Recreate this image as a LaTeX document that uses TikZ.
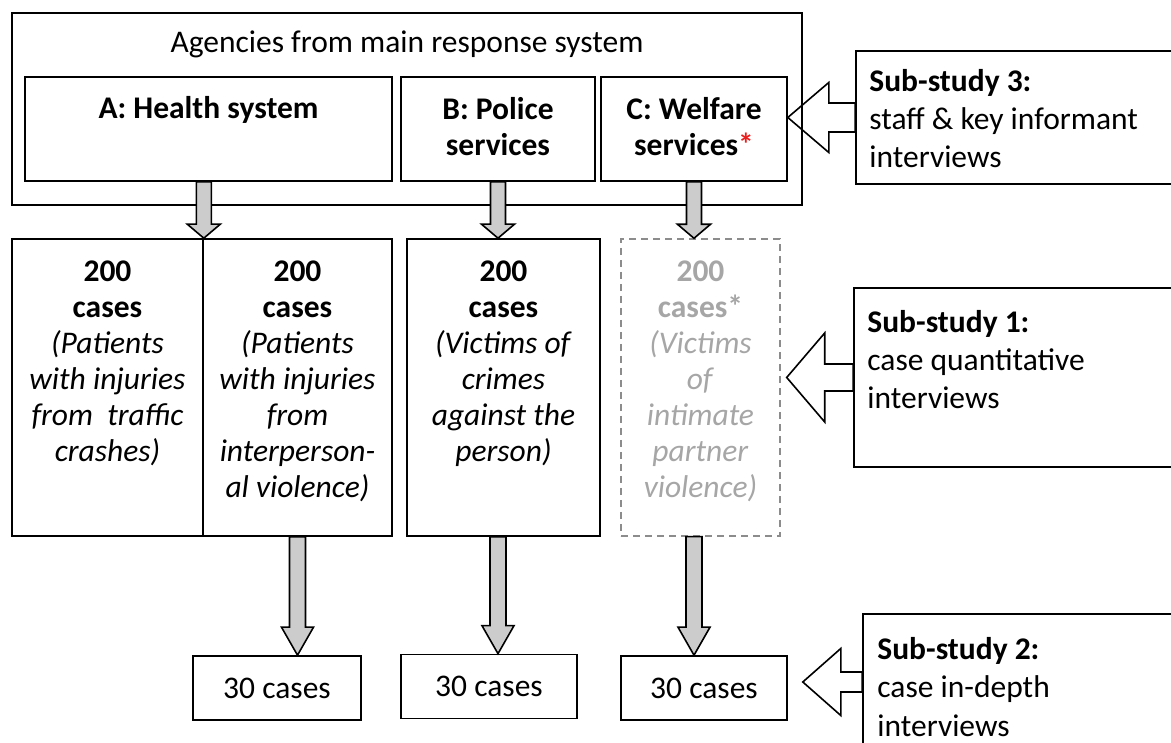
\documentclass[tikz,border=0pt]{standalone}
\usepackage{fontspec}
\setmainfont{Carlito}
\usetikzlibrary{calc,positioning}

\definecolor{arrowfill}{RGB}{204,204,204}
\definecolor{dashgray}{RGB}{140,140,140}
\definecolor{textgray}{RGB}{166,166,166}
\definecolor{starred}{RGB}{235,30,30}

\newcommand{\downblock}[5]{%
  \draw[blockarrow] let \p1=(#1), \p2=(#2) in
    (\x1-#3pt,\y1) -- (\x1+#3pt,\y1) -- (\x1+#3pt,\y2+#5pt) -- (\x1+#4pt,\y2+#5pt)
    -- (\x1,\y2) -- (\x1-#4pt,\y2+#5pt) -- (\x1-#3pt,\y2+#5pt) -- cycle;}
\newcommand{\studyarrow}[5]{%
  \draw[studyline] let \p1=(#1.west), \p2=(#2) in
    (\x2,\y1) -- (\x2+#5pt,\y1+#3pt) -- (\x2+#5pt,\y1+#4pt) -- (\x1,\y1+#4pt)
    -- (\x1,\y1-#4pt) -- (\x2+#5pt,\y1-#4pt) -- (\x2+#5pt,\y1-#3pt) -- cycle;}

\begin{document}
\begin{tikzpicture}[x=1pt, y=1pt,
  box/.style={draw, line width=1.6pt, inner sep=0pt},
  dashbox/.style={draw=dashgray, line width=1.4pt, dash pattern=on 7pt off 5pt, inner sep=0pt},
  txt/.style={font=\fontsize{31.5}{36}\selectfont, align=center, inner sep=0pt},
  stxt/.style={font=\fontsize{31.5}{38.4}\selectfont, align=left, inner sep=0pt, anchor=base west},
  blockarrow/.style={draw, line width=1.6pt, fill=arrowfill, line join=miter},
  studyline/.style={draw, line width=1.6pt, line join=miter}]
\useasboundingbox (0,0) rectangle (1171,743);

\node[box, minimum width=790pt, minimum height=192pt] (agencies) at (407,634) {};
\node[txt, anchor=base] (title) at (407,690) {Agencies from main response system};
\node[box, minimum width=367pt, minimum height=104pt] (hA) at (208.5,614) {};
\node[box, minimum width=194pt, minimum height=104pt] (hB) at (498,614) {};
\node[box, minimum width=186pt, minimum height=104pt] (hC) at (694,614) {};
\node[txt, anchor=base] (tA) at (208.5,624) {\textbf{A: Health system}};
\node[txt, anchor=base] (tB) at (498,587) {\textbf{B: Police}\\\textbf{services}};
\node[txt, anchor=base] (tC) at (694,587) {\textbf{C: Welfare}\\\textbf{services\textcolor{starred}{*}}};

\node[box, minimum width=191pt, minimum height=297pt] (c1) at (107.5,355.5) {};
\node[box, minimum width=189pt, minimum height=297pt] (c2) at (297.5,355.5) {};
\node[box, minimum width=193pt, minimum height=297pt] (c3) at (503.5,355.5) {};
\node[dashbox, minimum width=159pt, minimum height=297pt] (c4) at (700.5,355.5) {};
\node[txt, anchor=base] (tc1) at (107.5,281) {\textbf{200}\\\textbf{cases}\\\textit{(Patients}\\\textit{with injuries}\\\textit{from~ traffic}\\\textit{crashes)}};
\node[txt, anchor=base] (tc2) at (297.5,245) {\textbf{200}\\\textbf{cases}\\\textit{(Patients}\\\textit{with injuries}\\\textit{from}\\\textit{interperson-}\\\textit{al violence)}};
\node[txt, anchor=base] (tc3) at (503.5,281) {\textbf{200}\\\textbf{cases}\\\textit{(Victims of}\\\textit{crimes}\\\textit{against the}\\\textit{person)}};
\node[txt, anchor=base, text=textgray] (tc4) at (700.5,245) {\textbf{200}\\\textbf{cases*}\\\textit{(Victims}\\\textit{of}\\\textit{intimate}\\\textit{partner}\\\textit{violence)}};

\node[box, txt, minimum width=168pt, minimum height=64pt] (n1) at (277,55) {30 cases};
\node[box, txt, minimum width=176pt, minimum height=64pt] (n2) at (489,56.5) {30 cases};
\node[box, txt, minimum width=166pt, minimum height=64pt] (n3) at (704,55) {30 cases};

\node[box, minimum width=334pt, minimum height=133pt] (s3) at (1023,625.5) {};
\node[box, minimum width=336pt, minimum height=179pt] (s1) at (1022,365.5) {};
\node[box, minimum width=327pt, minimum height=136pt] (s2) at (1026.5,61) {};
\node[stxt] (ts3) at ($(s3.north west)+(14,-117.8)$) {\textbf{Sub-study 3:}\\staff \& key informant\\interviews};
\node[stxt] (ts1) at ($(s1.north west)+(14,-121.8)$) {\textbf{Sub-study 1:}\\case quantitative\\interviews};
\node[stxt] (ts2) at ($(s2.north west)+(15,-123)$) {\textbf{Sub-study 2:}\\case in-depth\\interviews};

\downblock{hA.south -| c1.north east}{c1.north east}{7.5}{16.5}{14}
\downblock{hB.south}{hB.south |- c3.north}{7.5}{16.5}{14}
\downblock{hC.south}{hC.south |- c4.north}{7.5}{16.5}{14}
\downblock{c2.south}{c2.south |- n1.north}{8}{16}{28}
\downblock{hB.south |- c3.south}{hB.south |- n2.north}{8}{16}{28}
\downblock{hC.south |- c4.south}{hC.south |- n3.north}{8}{16}{28}

\studyarrow{s3}{hC.east}{35}{14.5}{41}
\studyarrow{s1}{[xshift=6pt]c4.east}{44.5}{13.5}{38}
\studyarrow{s2}{[xshift=15pt]n3.east}{33.5}{10}{38}
\end{tikzpicture}
\end{document}
